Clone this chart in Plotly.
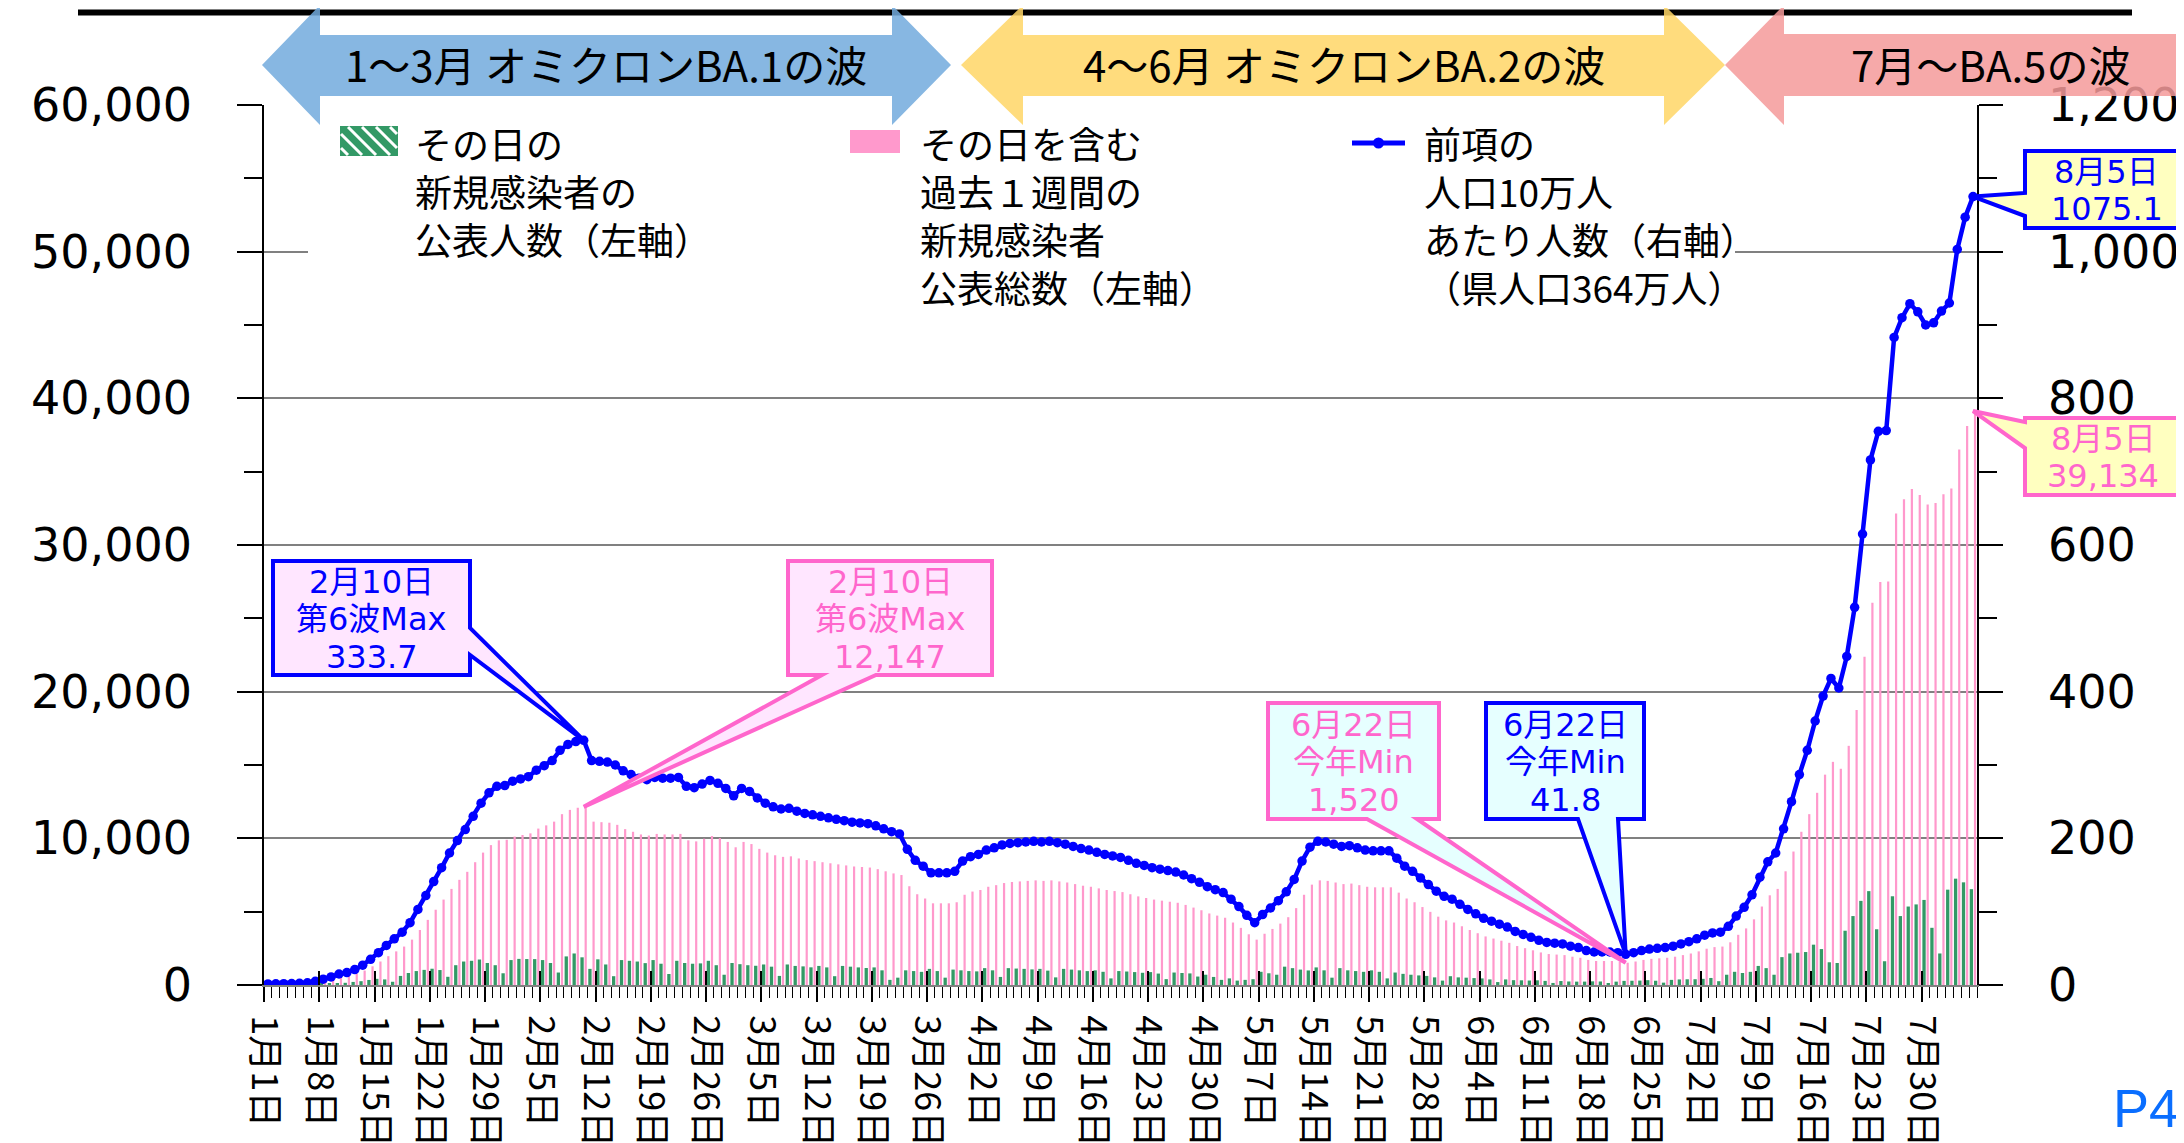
import pandas as pd
import plotly.graph_objects as go

# ---- data (2022/1/1 - 8/5) ----
days = pd.date_range("2022-01-01", "2022-08-05", freq="D")

# その日の新規感染者の公表人数（左軸）
daily_cases = [
    10, 8, 12, 15, 19, 33, 80,
    110, 120, 80, 150, 210, 260, 344,
    420, 380, 220, 620, 820, 950, 1031,
    1110, 1020, 560, 1350, 1600, 1650, 1737,
    1500, 1350, 800, 1700, 1780, 1770, 1765,
    1700, 1500, 850, 1950, 2150, 1888, 1100,
    1750, 1400, 600, 1700, 1650, 1600, 1492,
    1700, 1450, 750, 1650, 1500, 1450, 1474,
    1650, 1350, 700, 1500, 1420, 1350, 1312,
    1400, 1250, 620, 1400, 1300, 1270, 1205,
    1300, 1200, 600, 1300, 1250, 1200, 1158,
    1200, 1000, 350, 500, 1000, 950, 897,
    1100, 950, 500, 1050, 1000, 950, 929,
    1150, 1000, 550, 1150, 1120, 1100, 1064,
    1100, 980, 520, 1100, 1050, 1000, 948,
    1000, 900, 450, 950, 920, 880, 833,
    880, 780, 400, 850, 820, 790, 576,
    700, 550, 350, 450, 300, 350, 394,
    900, 800, 700, 1250, 1150, 1050, 993,
    1200, 1000, 500, 1150, 1000, 950, 898,
    1000, 900, 450, 850, 760, 700, 654,
    620, 520, 300, 600, 520, 500, 471,
    450, 380, 200, 380, 330, 320, 306,
    320, 280, 140, 270, 240, 230, 231,
    250, 240, 120, 230, 280, 290, 301,
    330, 290, 160, 350, 380, 390, 393,
    420, 480, 260, 700, 900, 820, 897,
    1300, 1150, 700, 1900, 2150, 2200, 2248,
    2750, 2450, 1550, 1500, 3700, 4700, 5736,
    6400, 3800, 1620, 6050, 4700, 5350, 5495,
    5800, 3900, 2150, 6500, 7250, 7000, 6534,
]

# その日を含む過去1週間の新規感染者公表総数（左軸）
weekly_total = [
    55, 58, 66, 73, 84, 109, 182,
    291, 400, 546, 619, 764, 983, 1274,
    1602, 1966, 2293, 2621, 3094, 3749, 4441,
    5132, 5824, 6552, 7171, 7717, 8372, 9027,
    9537, 9864, 9901, 10119, 10228, 10338, 10665,
    10884, 11138, 11648, 11939, 12085, 12147, 11138,
    11102, 11066, 10920, 10629, 10447, 10265, 10192,
    10301, 10265, 10265, 10301, 9864, 9792, 9974,
    10156, 10010, 9755, 9391, 9755, 9610, 9282,
    9027, 8845, 8736, 8772, 8627, 8518, 8445,
    8372, 8299, 8226, 8154, 8081, 8044, 8008,
    7899, 7753, 7608, 7498, 6734, 6188, 5897,
    5569, 5569, 5569, 5642, 6152, 6370, 6479,
    6698, 6807, 6952, 7025, 7062, 7098, 7134,
    7098, 7134, 7062, 6989, 6880, 6770, 6698,
    6588, 6479, 6406, 6334, 6188, 6042, 5933,
    5824, 5751, 5678, 5606, 5460, 5278, 5096,
    4878, 4732, 4586, 4259, 3895, 3458, 3094,
    3494, 3822, 4186, 4623, 5242, 6152, 6843,
    7134, 7098, 6989, 6880, 6916, 6807, 6698,
    6661, 6661, 6661, 6297, 5897, 5642, 5314,
    4987, 4659, 4404, 4259, 4004, 3749, 3531,
    3312, 3167, 3021, 2876, 2657, 2512, 2366,
    2220, 2111, 2075, 2038, 1929, 1856, 1711,
    1638, 1638, 1638, 1602, 1520, 1602, 1711,
    1784, 1820, 1856, 1929, 2038, 2148, 2293,
    2475, 2584, 2621, 2912, 3422, 3858, 4477,
    5351, 6115, 6552, 7753, 9100, 10447, 11648,
    13104, 14342, 15215, 14742, 16307, 18746, 22386,
    26062, 27482, 27518, 32141, 33124, 33816, 33415,
    32760, 32869, 33452, 33852, 36509, 38111, 39134,
]

# 人口10万人あたり人数（右軸）
per_100k = [
    1.5, 1.6, 1.8, 2.0, 2.3, 3.0, 5.0,
    8.0, 11.0, 15.0, 17.0, 21.0, 27.0, 35.0,
    44.0, 54.0, 63.0, 72.0, 85.0, 103.0, 122.0,
    141.0, 160.0, 180.0, 197.0, 212.0, 230.0, 248.0,
    262.0, 271.0, 272.0, 278.0, 281.0, 284.0, 293.0,
    299.0, 306.0, 320.0, 328.0, 332.0, 333.7, 306.0,
    305.0, 304.0, 300.0, 292.0, 287.0, 282.0, 280.0,
    283.0, 282.0, 282.0, 283.0, 271.0, 269.0, 274.0,
    279.0, 275.0, 268.0, 258.0, 268.0, 264.0, 255.0,
    248.0, 243.0, 240.0, 241.0, 237.0, 234.0, 232.0,
    230.0, 228.0, 226.0, 224.0, 222.0, 221.0, 220.0,
    217.0, 213.0, 209.0, 206.0, 185.0, 170.0, 162.0,
    153.0, 153.0, 153.0, 155.0, 169.0, 175.0, 178.0,
    184.0, 187.0, 191.0, 193.0, 194.0, 195.0, 196.0,
    195.0, 196.0, 194.0, 192.0, 189.0, 186.0, 184.0,
    181.0, 178.0, 176.0, 174.0, 170.0, 166.0, 163.0,
    160.0, 158.0, 156.0, 154.0, 150.0, 145.0, 140.0,
    134.0, 130.0, 126.0, 117.0, 107.0, 95.0, 85.0,
    96.0, 105.0, 115.0, 127.0, 144.0, 169.0, 188.0,
    196.0, 195.0, 192.0, 189.0, 190.0, 187.0, 184.0,
    183.0, 183.0, 183.0, 173.0, 162.0, 155.0, 146.0,
    137.0, 128.0, 121.0, 117.0, 110.0, 103.0, 97.0,
    91.0, 87.0, 83.0, 79.0, 73.0, 69.0, 65.0,
    61.0, 58.0, 57.0, 56.0, 53.0, 51.0, 47.0,
    45.0, 45.0, 45.0, 44.0, 41.8, 44.0, 47.0,
    49.0, 50.0, 51.0, 53.0, 56.0, 59.0, 63.0,
    68.0, 71.0, 72.0, 80.0, 94.0, 106.0, 123.0,
    147.0, 168.0, 180.0, 213.0, 250.0, 287.0, 320.0,
    360.0, 394.0, 418.0, 405.0, 448.0, 515.0, 615.0,
    716.0, 755.0, 756.0, 883.0, 910.0, 929.0, 918.0,
    900.0, 903.0, 919.0, 930.0, 1003.0, 1047.0, 1075.1,
]

wave_labels = ["1～3月 オミクロンBA.1の波", "4～6月 オミクロンBA.2の波", "7月～BA.5の波"]
legend_texts = [
    "その日の<br>新規感染者の<br>公表人数（左軸）",
    "その日を含む<br>過去１週間の<br>新規感染者<br>公表総数（左軸）",
    "前項の<br>人口10万人<br>あたり人数（右軸）<br>（県人口364万人）",
]

N = len(days)
xs = list(range(N))
tick_pos = [i - 0.5 for i in range(0, N, 7)]
tick_text = [f"{days[i].month}月{days[i].day}日" for i in range(0, N, 7)]

# ---- geometry in pixels ----
W, H = 2184, 1143
L, R, T, B = 256, 1969, 97, 977
PW, PH = R - L, B - T
Y_MAX, Y2_MAX = 60000, 1200

JP = "Noto Sans CJK JP"
NUM = "DejaVu Sans, Noto Sans CJK JP"
BLUE, PINK, GREEN = "#0000FF", "#FF66CC", "#339966"


def px(xp):
    return (xp - L) / PW


def py(yp):
    return (B - yp) / PH


def day_x(i):
    return (i + 0.5) / N


def note(x, y, text, font, **kw):
    # paper-anchored text placed by pixel position
    fig.add_annotation(x=px(x), y=py(y), xref="paper", yref="paper", text=text,
                       showarrow=False, font=font, xanchor=kw.get("xanchor", "center"),
                       yanchor="middle", align=kw.get("align", "center"))


fig = go.Figure()

fig.add_trace(go.Bar(
    x=xs, y=daily_cases, marker=dict(color=GREEN, line_width=0),
    width=0.42, offset=-0.42, name="daily"
))
fig.add_trace(go.Bar(
    x=xs, y=weekly_total, marker=dict(color="#FF99CC", line_width=0),
    width=0.28, offset=0.11, name="weekly"
))
fig.add_trace(go.Scatter(
    x=xs, y=per_100k, xaxis="x2", yaxis="y2", mode="lines+markers",
    line=dict(color=BLUE, width=4.5), marker=dict(size=9.5, color=BLUE),
    name="per100k"
))

axis_font = dict(family=NUM, size=46, color="black")

fig.update_layout(
    width=W, height=H,
    margin=dict(l=L, r=W - R, t=T, b=H - B, autoexpand=False),
    paper_bgcolor="white", plot_bgcolor="white",
    barmode="overlay", showlegend=False,
    font=dict(family=JP, color="black"),
    xaxis=dict(
        range=[-0.5, N - 0.5], tickmode="array", tickvals=tick_pos, ticktext=tick_text,
        tickangle=90, ticks="outside", ticklen=15, tickwidth=2, tickcolor="black",
        minor=dict(tickmode="linear", tick0=-0.5, dtick=1, ticks="outside",
                   ticklen=11, tickwidth=1.3, tickcolor="black", showgrid=False),
        showgrid=False, zeroline=False, showline=True, linecolor="#808080", linewidth=2,
        tickfont=dict(family=JP, size=36, color="black"), ticklabelstandoff=6,
    ),
    xaxis2=dict(
        overlaying="x", anchor="y", side="bottom", range=[-0.5, N - 0.5],
        tickmode="array", tickvals=tick_pos, ticks="inside", ticklen=14, tickwidth=2,
        tickcolor="black", showticklabels=False, showgrid=False, zeroline=False, showline=False,
    ),
    yaxis=dict(
        range=[0, Y_MAX], dtick=10000, tickformat=",d", ticks="outside", ticklen=25,
        tickwidth=1.5, tickcolor="black",
        minor=dict(dtick=5000, ticks="outside", ticklen=18, tickwidth=1.5, tickcolor="black",
                   showgrid=False),
        showgrid=True, gridcolor="#808080", gridwidth=1.5, zeroline=False,
        showline=True, linecolor="black", linewidth=1.5,
        tickfont=axis_font, ticklabelstandoff=36,
    ),
    yaxis2=dict(
        overlaying="y", side="right", anchor="x", range=[0, Y2_MAX], dtick=200,
        tickformat=",d", ticks="outside", ticklen=24, tickwidth=1.5, tickcolor="black",
        minor=dict(dtick=100, ticks="outside", ticklen=18, tickwidth=1.5, tickcolor="black",
                   showgrid=False),
        showgrid=False, zeroline=False, showline=True, linecolor="black", linewidth=1.5,
        tickfont=axis_font, ticklabelstandoff=36,
    ),
)

# ---- legend (drawn by hand) ----
fig.add_shape(type="rect", xref="paper", yref="paper", x0=px(300), x1=px(1727),
              y0=py(308), y1=py(100), fillcolor="white", line_width=0, layer="above")
fig.add_shape(type="rect", xref="paper", yref="paper", x0=px(333), x1=px(389),
              y0=py(147), y1=py(119), fillcolor=GREEN, line=dict(color=GREEN, width=2),
              layer="above")
stripes = [((333, 140), (340, 147)), ((333, 126), (354, 147)), ((340, 119), (368, 147)),
           ((354, 119), (382, 147)), ((368, 119), (389, 140)), ((382, 119), (389, 126))]
stripe_path = " ".join(f"M {px(a[0]):.5f},{py(a[1]):.5f} L {px(b[0]):.5f},{py(b[1]):.5f}"
                       for a, b in stripes)
fig.add_shape(type="path", xref="paper", yref="paper", path=stripe_path,
              line=dict(color="white", width=3), layer="above")
fig.add_shape(type="rect", xref="paper", yref="paper", x0=px(842), x1=px(892),
              y0=py(145), y1=py(122), fillcolor="#FF99CC", line_width=0, layer="above")
fig.add_shape(type="line", xref="paper", yref="paper", x0=px(1344), x1=px(1397),
              y0=py(135), y1=py(135), line=dict(color=BLUE, width=5), layer="above")
fig.add_shape(type="circle", xref="paper", yref="paper", x0=px(1365), x1=px(1376),
              y0=py(140.5), y1=py(129.5), fillcolor=BLUE, line_width=0, layer="above")

for text, xl in zip(legend_texts, [405, 910, 1414]):
    n_lines = text.count("<br>") + 1
    note(xl, 135 + (n_lines - 1) * 48 / 2, text, dict(family=JP, size=37),
         xanchor="left", align="left")

# ---- top rule and wave banners ----
fig.add_shape(type="line", xref="paper", yref="paper", x0=px(70), x1=px(2124),
              y0=py(4.5), y1=py(4.5), line=dict(color="black", width=6), layer="above")


def poly(points, color):
    path = "M " + " L ".join(f"{px(a):.5f},{py(b):.5f}" for a, b in points) + " Z"
    fig.add_shape(type="path", xref="paper", yref="paper", path=path, fillcolor=color,
                  line_width=0, opacity=0.85, layer="above")


def double_arrow(xa, xb, xc, xd, color):
    poly([(xa, 57), (xb, -3), (xb, 27), (xc, 27), (xc, -3), (xd, 57), (xc, 117),
          (xc, 88), (xb, 88), (xb, 117)], color)


double_arrow(254, 312, 884, 943, "#72AADD")
double_arrow(953, 1015, 1656, 1717, "#FFD666")
poly([(1717, 57), (1776, -3), (1776, 26), (2190, 26), (2190, 88), (1776, 88),
      (1776, 117)], "#F59A9A")

for text, xc in zip(wave_labels, [598, 1336, 1983]):
    note(xc, 55, text, dict(family=JP, size=42, color="black"))


# ---- callouts ----
def callout(box, side, base, tip, color, fill, text):
    x0, y0, x1, y1 = box
    b0, b1 = base
    if side == "right":
        pts = [(x0, y0), (x1, y0), (x1, b0), None, (x1, b1), (x1, y1), (x0, y1)]
    elif side == "bottom":
        pts = [(x0, y0), (x1, y0), (x1, y1), (b1, y1), None, (b0, y1), (x0, y1)]
    else:
        pts = [(x0, y0), (x1, y0), (x1, y1), (x0, y1), (x0, b1), None, (x0, b0)]
    coords = [tip if p is None else (px(p[0]), py(p[1])) for p in pts]
    path = "M " + " L ".join(f"{a:.5f},{b:.5f}" for a, b in coords) + " Z"
    fig.add_shape(type="path", xref="paper", yref="paper", path=path, fillcolor=fill,
                  line=dict(color=color, width=4), layer="above")
    lines = text.split("<br>")
    yc = (y0 + y1) / 2 + 1
    for k, line in enumerate(lines):
        note((x0 + x1) / 2, yc + (k - (len(lines) - 1) / 2) * 37.5, line,
             dict(family=NUM, size=32, color=color))


def md(i):
    return f"{days[i].month}月{days[i].day}日"


i_max = max(range(120), key=lambda i: weekly_total[i])
i_min = min(range(150, N), key=lambda i: weekly_total[i])
i_last = N - 1

callout((265, 553, 462, 667), "right", (620, 647),
        (day_x(i_max), per_100k[i_max] / Y2_MAX), BLUE, "#FFE6FF",
        f"{md(i_max)}<br>第6波Max<br>{per_100k[i_max]}")
callout((780, 553, 984, 667), "bottom", (814, 868),
        (day_x(i_max), weekly_total[i_max] / Y_MAX), PINK, "#FFE6FF",
        f"{md(i_max)}<br>第6波Max<br>{weekly_total[i_max]:,}")
callout((1260, 695, 1431, 811), "bottom", (1359, 1409),
        (day_x(i_min), weekly_total[i_min] / Y_MAX), PINK, "#E6FFFF",
        f"{md(i_min)}<br>今年Min<br>{weekly_total[i_min]:,}")
callout((1478, 695, 1636, 811), "bottom", (1570, 1610),
        (day_x(i_min), per_100k[i_min] / Y2_MAX), BLUE, "#E6FFFF",
        f"{md(i_min)}<br>今年Min<br>{per_100k[i_min]}")
callout((2017, 143, 2180, 220), "left", (185, 208),
        (day_x(i_last), per_100k[i_last] / Y2_MAX), BLUE, "#FFFFC0",
        f"{md(i_last)}<br>{per_100k[i_last]}")
callout((2017, 410, 2173, 487), "left", (414, 440),
        (day_x(i_last), weekly_total[i_last] / Y_MAX), PINK, "#FFFFC0",
        f"{md(i_last)}<br>{weekly_total[i_last]:,}")

note(2138, 1100, "P4", dict(family="Liberation Sans", size=54, color="#0A6EFF"))

fig.write_html("out.html")
